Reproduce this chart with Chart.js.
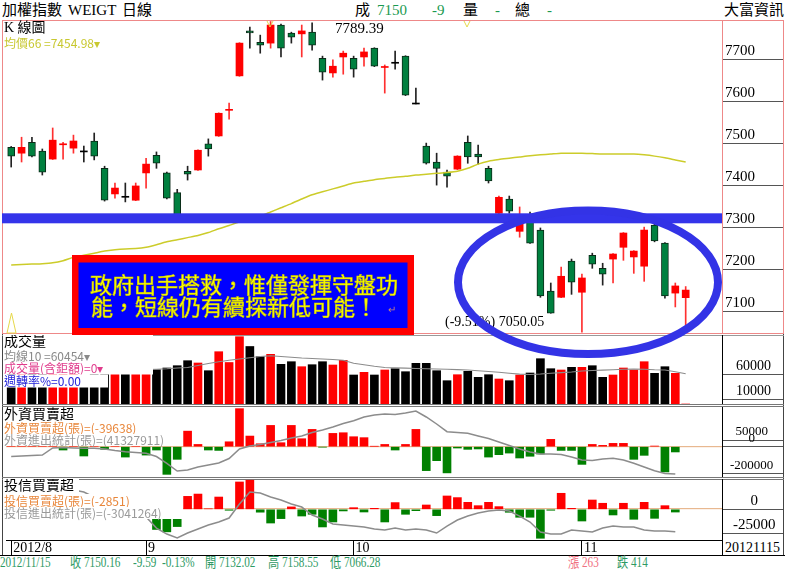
<!DOCTYPE html>
<html>
<head>
<meta charset="utf-8">
<script src="https://cdn.jsdelivr.net/npm/chart.js@4.4.0/dist/chart.umd.min.js"></script>
<style>
body { margin: 0; background: #fff; }
#wrap { position: relative; width: 785px; height: 571px; overflow: hidden; background: #fff;
        font-family: "Liberation Serif", "Noto Sans CJK TC", serif; }
canvas { position: absolute; left: 0; }
.t { position: absolute; white-space: nowrap; font-size: 15px; line-height: 20px; top: 0; }
.f { position: absolute; white-space: nowrap; font-size: 14px; line-height: 16px; top: 555px;
     transform: scaleX(0.8); transform-origin: left center; color: #2e9a64; }
.ln { position: absolute; }
</style>
</head>
<body>
<div id="wrap">
  <!-- header -->
  <div class="t" style="left:2px">加權指數</div>
  <div class="t" style="left:68px">WEIGT</div>
  <div class="t" style="left:122px">日線</div>
  <div class="t" style="left:355px">成</div>
  <div class="t" style="left:377px;color:#1a9a50">7150</div>
  <div class="t" style="left:432px;color:#1a9a50">-9</div>
  <div class="t" style="left:463px">量</div>
  <div class="t" style="left:495px;color:#1a9a50">-</div>
  <div class="t" style="left:515px">總</div>
  <div class="t" style="left:547px;color:#1a9a50">-</div>
  <div class="t" style="left:724px">大富資訊</div>

  <!-- frame lines -->
  <div class="ln" style="left:2px;top:20px;width:782px;height:1px;background:#e88"></div>
  <div class="ln" style="left:2px;top:20px;width:1px;height:314px;background:#e88"></div>
  <div class="ln" style="left:783px;top:20px;width:1px;height:314px;background:#e88"></div>
  <div class="ln" style="left:2px;top:333px;width:782px;height:1px;background:#e88"></div>
  <div class="ln" style="left:2px;top:334px;width:1px;height:222px;background:#444"></div>
  <div class="ln" style="left:783px;top:334px;width:1px;height:222px;background:#444"></div>
  <div class="ln" style="left:2px;top:335px;width:782px;height:1px;background:#999"></div>
  <div class="ln" style="left:2px;top:404px;width:782px;height:1px;background:#777"></div>
  <div class="ln" style="left:2px;top:406px;width:782px;height:1px;background:#777"></div>
  <div class="ln" style="left:2px;top:477px;width:782px;height:1px;background:#777"></div>
  <div class="ln" style="left:2px;top:479px;width:782px;height:1px;background:#777"></div>
  <div class="ln" style="left:0px;top:555px;width:785px;height:1px;background:#000"></div>
  <div class="ln" style="left:722px;top:540px;width:1px;height:15px;background:#000"></div>

  <canvas id="cVol" style="top:335px;z-index:1" width="785" height="69"></canvas>
  <canvas id="cFor" style="top:407px;z-index:1" width="785" height="70"></canvas>
  <canvas id="cTru" style="top:479px;z-index:1" width="785" height="76"></canvas>
  <canvas id="cMain" style="top:20px;z-index:3" width="785" height="350"></canvas>

  <div class="t" style="left:725px;top:538px;font-size:14px">20121115</div>

  <!-- footer -->
  <div class="f" style="left:0px">2012/11/15</div>
  <div class="f" style="left:70px">收 7150.16</div>
  <div class="f" style="left:133px">-9.59</div>
  <div class="f" style="left:162px">-0.13%</div>
  <div class="f" style="left:205px">開 7132.02</div>
  <div class="f" style="left:268px">高 7158.55</div>
  <div class="f" style="left:330px">低 7066.28</div>
  <div class="f" style="left:568px;color:#f07080">漲 263</div>
  <div class="f" style="left:617px">跌 414</div>
</div>

<script>
// trading days, 2012/08/15 - 2012/11/15
var dates = [
  '2012/08/15','2012/08/16','2012/08/17','2012/08/20','2012/08/21','2012/08/22','2012/08/23','2012/08/24',
  '2012/08/27','2012/08/28','2012/08/29','2012/08/30','2012/08/31',
  '2012/09/03','2012/09/04','2012/09/05','2012/09/06','2012/09/07','2012/09/10','2012/09/11','2012/09/12',
  '2012/09/13','2012/09/14','2012/09/17','2012/09/18','2012/09/19','2012/09/20','2012/09/21','2012/09/24',
  '2012/09/25','2012/09/26','2012/09/27','2012/09/28',
  '2012/10/01','2012/10/02','2012/10/03','2012/10/04','2012/10/05','2012/10/08','2012/10/09','2012/10/11',
  '2012/10/12','2012/10/15','2012/10/16','2012/10/17','2012/10/18','2012/10/19','2012/10/22','2012/10/23',
  '2012/10/24','2012/10/25','2012/10/26','2012/10/29','2012/10/30','2012/10/31',
  '2012/11/01','2012/11/02','2012/11/05','2012/11/06','2012/11/07','2012/11/08','2012/11/09','2012/11/12',
  '2012/11/13','2012/11/14','2012/11/15'
];
var emptySlots = ['', '', ''];

var openP = [7490,7476,7502,7481,7462,7496,7488,7479,7505,7440,
  7379,7371,7364,7429,7471,7429,7382,7433,7436,7498,
  7517,7578,7660,7767,7740,7738,7781,7762,7760,7764,
  7702,7667,7705,7702,7705,7726,7680,7690,7707,7593,
  7493,7455,7431,7438,7502,7474,7440,7333,7367,7290,
  7320,7293,7148,7133,7219,7145,7233,7202,7224,7252,
  7229,7207,7305,7262,7143,7132.02];
var highP = [7492,7514,7514,7486,7536,7502,7519,7493,7524,7445,
  7405,7405,7405,7464,7479,7431,7390,7445,7484,7510,
  7572,7595,7739,7776,7757,7789.39,7783,7764,7781,7786,
  7707,7698,7719,7707,7726,7727,7686,7719,7708,7631,
  7500,7476,7436,7470,7517,7495,7445,7374,7374,7348,
  7336,7298,7167,7205,7224,7188,7238,7214,7237,7287,
  7244,7300,7317,7263,7167,7158.55];
var lowP = [7443,7455,7467,7424,7461,7462,7476,7455,7460,7362,
  7369,7360,7363,7393,7440,7367,7325,7412,7435,7469,
  7516,7557,7659,7726,7714,7726,7705,7738,7705,7721,
  7650,7657,7664,7657,7683,7682,7619,7676,7613,7593,
  7450,7400,7395,7437,7452,7450,7405,7332,7333,7276,
  7261,7133,7095,7132,7140,7050.05,7202,7162,7167,7221,
  7190,7171,7265,7131,7110,7066.28];
var closeP = [7469,7490,7469,7431,7507,7498,7505,7479,7469,7364,
  7393,7371,7398,7450,7452,7369,7328,7426,7483,7486,
  7571,7580,7738,7762,7733,7781,7726,7752,7767,7733,
  7669,7683,7714,7676,7717,7683,7682,7690,7614,7593,
  7452,7440,7421,7469,7467,7467,7410,7371,7338,7310,
  7262,7136,7095,7183,7169,7179,7212,7188,7236,7286,
  7243,7293,7267,7136,7160,7150.16];
var ma66 = [7210,7211,7212,7213,7215,7220,7228,7233,7238,7243,
  7246,7248,7249,7252,7258,7265,7270,7275,7280,7287,
  7296,7304,7312,7319,7326,7336,7346,7356,7367,7377,
  7384,7391,7398,7405,7409,7413,7416,7419,7421,7424,
  7426,7428,7430,7433,7440,7450,7457,7461,7464,7467,
  7470,7472,7474,7476,7476,7476,7475,7474,7474,7474,
  7474,7472,7469,7465,7460,7454.98];

var volume = [75000,70000,68000,80000,78000,62000,66000,55000,72000,90000,
  76000,64000,70000,82000,68600,72000,76600,86600,82000,66600,
  104600,83000,134600,115000,94600,99400,79400,84600,74600,78600,
  84600,78000,87400,58000,63400,58000,68000,70600,64600,81400,
  81400,66600,46600,58600,65400,53400,58600,50000,46600,58000,
  62000,90600,70600,68000,73400,73400,76600,53400,58000,72000,
  68000,84600,61400,74600,61400,0];
var volMa10 = [72000,72500,73000,73000,72500,72000,71500,71000,70500,70000,
  69500,69000,68800,68600,69500,70500,72000,73000,77000,81000,
  84500,87500,90000,92500,95000,96500,95000,93500,92000,91000,
  90000,89000,87500,81500,78500,75500,73000,72300,71800,71000,
  70500,70000,69500,68800,68000,66500,65000,63500,61500,59800,
  59000,60000,61500,62800,64000,66000,67000,67800,68500,69500,
  70000,69500,68500,68000,64500,60454];

var foreignNet = [40000,25000,60000,15000,90000,-25000,30000,-70000,20000,-20000,
  35000,-78000,45000,-63000,-25000,-208000,-95000,117000,17000,-25000,
  -28000,37000,286000,80000,22000,160000,30000,160000,60000,130000,
  -3000,100000,105000,75000,68000,3000,17000,-25000,17000,130000,
  -180000,-105000,-197000,-10000,-20000,-17000,-78000,-60000,-48000,-85000,
  -72000,-55000,55000,-28000,-28000,-133000,17000,10000,25000,25000,
  -95000,-65000,5000,-190000,-39638,null];
var foreignCum = [41680000,41690000,41700000,41710000,41850000,41860000,41850000,41844000,41844000,41830000,
  41800000,41776000,41760000,41744000,41680000,41544000,41390000,41410000,41470000,41510000,
  41550000,41640000,41830000,41890000,41920000,41960000,42000000,42050000,42090000,42160000,
  42210000,42270000,42340000,42396000,42470000,42510000,42530000,42520000,42550000,42590000,
  42470000,42330000,42176000,42160000,42144000,42090000,42040000,41970000,41900000,41830000,
  41770000,41730000,41730000,41720000,41670000,41610000,41600000,41630000,41644000,41610000,
  41544000,41470000,41396000,41340000,41327911,null];

var trustNet = [-2000,-4000,-1500,-6000,-3000,-5000,-2500,-7000,-3500,-1000,
  -4500,-6500,-2000,-5500,-21000,-23500,-18000,13500,15900,500,
  12800,-1000,28500,30300,-3000,-14300,-9700,2500,-7000,-5200,
  -18400,-13200,-1700,1700,-2800,1000,-13200,7000,-5200,-1400,
  4500,-6600,13900,12200,7300,3800,7300,2800,-3100,-8300,
  -8300,-30200,-1000,16700,1000,-12200,9700,6300,-5900,6300,
  -10400,7300,-9400,3800,-2851,null];
var trustCum = [-2818000,-2818000,-2813000,-2813000,-2818000,-2823000,-2833000,-2843000,-2868000,-2898000,
  -2923000,-2943000,-2958000,-2968000,-3023000,-3053000,-3073000,-3048000,-3028000,-3008000,
  -2993000,-2973000,-2903000,-2843000,-2848000,-2868000,-2883000,-2903000,-2918000,-2958000,
  -2978000,-3003000,-3008000,-3013000,-3018000,-3028000,-3033000,-3023000,-3033000,-3028000,
  -3033000,-3048000,-3013000,-2983000,-2963000,-2948000,-2938000,-2933000,-2938000,-2963000,
  -2993000,-3043000,-3053000,-3053000,-3033000,-3038000,-3043000,-3023000,-3013000,-3018000,
  -3018000,-3033000,-3038000,-3038000,-3041264,null];

var priceTicks = [7100, 7200, 7300, 7400, 7500, 7600, 7700];
var volTicks = [10000, 60000];
var foreignTicks = [-200000, 0, 50000];
var trustTicks = [-25000, 0];
var monthTickIdx = [0, 13, 33, 55];
var monthLabels = ['2012/8', '9', '10', '11'];
var supportLevel = 7321;

var allLabels = dates.concat(emptySlots);

var RED = '#ff0000';
var GREEN = '#00803f';
var BAR_GREEN = '#008000';
var SERIF = "'Liberation Serif', 'Noto Sans CJK TC', serif";
var NOTE = "12px 'Noto Sans CJK TC', sans-serif";
var TITLE = "14px 'Liberation Serif', 'Noto Sans CJK TC', serif";

function isUp(i) { return closeP[i] > openP[i]; }
function isDown(i) { return closeP[i] < openP[i]; }

var wicks = dates.map(function (d, i) { return [lowP[i], highP[i]]; });
var bodies = dates.map(function (d, i) { return [openP[i], closeP[i]]; });
var bodyFill = dates.map(function (d, i) { return isUp(i) ? RED : (isDown(i) ? GREEN : '#000'); });
var bodyLine = dates.map(function (d, i) { return isDown(i) ? '#0b2a18' : bodyFill[i]; });
var bodyLineW = dates.map(function (d, i) { return isDown(i) ? 1 : 0; });
var wickFill = dates.map(function (d, i) { return isUp(i) ? '#ff3030' : '#222'; });
var volFill = dates.map(function (d, i) { return isUp(i) ? RED : '#000'; });
var signFill = function (arr) {
    return arr.map(function (v) { return v >= 0 ? RED : BAR_GREEN; });
};

function hiddenX() {
    return { type: 'category', labels: allLabels, display: false, offset: true, grid: { offset: false } };
}

function rightAxis(min, max, ticks, size, pad, cross, off) {
    return {
        position: 'right', min: min, max: max,
        afterBuildTicks: function (s) { s.ticks = ticks.map(function (v) { return { value: v }; }); },
        afterFit: function (s) { s.width = 61; },
        grid: { drawOnChartArea: false, drawTicks: true, tickLength: 61, color: '#555' },
        border: { display: true, color: '#000' },
        ticks: {
            autoSkip: false, crossAlign: cross, padding: pad, labelOffset: off,
            color: '#000', font: { family: SERIF, size: size },
            callback: function (v) { return String(v); }
        }
    };
}

// white boxed notes in the top-left of every panel
function notesPlugin(notes) {
    return {
        id: 'notes',
        afterDatasetsDraw: function (chart) {
            var ctx = chart.ctx;
            notes.forEach(function (n) {
                ctx.save();
                ctx.font = n.font || NOTE;
                var w = n.w || (ctx.measureText(n.t).width + 6);
                ctx.fillStyle = '#fff';
                ctx.fillRect(3, n.y0, w, n.y1 - n.y0);
                ctx.fillStyle = n.c;
                ctx.textBaseline = 'middle';
                ctx.fillText(n.t, 4, (n.y0 + n.y1) / 2 + 0.5);
                ctx.restore();
            });
        }
    };
}

var baseOpts = {
    responsive: false, animation: false,
    plugins: { legend: { display: false }, tooltip: { enabled: false } }
};

function opts(extra) {
    var o = JSON.parse(JSON.stringify(baseOpts));
    o.responsive = false; o.animation = false;
    for (var k in extra) o[k] = extra[k];
    return o;
}

// ---------- K line ----------
var mainAxis = rightAxis(7048, 7793, priceTicks, 15, -58, 'near', -8);
mainAxis.border.color = '#e88';

var mainDecor = {
    id: 'mainDecor',
    afterDatasetsDraw: function (chart) {
        var ctx = chart.ctx, a = chart.chartArea, y = chart.scales.y;
        ctx.save();
        // support band
        var yb = y.getPixelForValue(supportLevel);
        ctx.fillStyle = '#3434ea';
        ctx.fillRect(a.left - 4, yb - 5, a.right - a.left + 4, 10);

        // comment box
        ctx.fillStyle = '#ff0000';
        ctx.fillRect(72, 235, 342, 80);
        ctx.fillStyle = '#0000ff';
        ctx.fillRect(78.5, 242.5, 329, 65.5);
        ctx.fillStyle = '#ffff00';
        ctx.strokeStyle = '#c8c800';
        ctx.lineWidth = 0.6;
        ctx.font = "22px 'Noto Sans CJK TC', sans-serif";
        ctx.textBaseline = 'middle';
        ctx.fillText('政府出手搭救，惟僅發揮守盤功', 90, 265);
        ctx.strokeText('政府出手搭救，惟僅發揮守盤功', 90, 265);
        ctx.fillText('能，短線仍有續探新低可能！', 91, 287);
        ctx.strokeText('能，短線仍有續探新低可能！', 91, 287);
        ctx.fillStyle = '#c08080';
        ctx.font = "10px 'Liberation Sans'";
        ctx.fillText('↵', 388, 290);

        // high / low labels
        ctx.fillStyle = '#000';
        ctx.font = '15px ' + SERIF;
        ctx.fillText('7789.39', 335, 9);
        ctx.font = '14px ' + SERIF;
        ctx.fillText('(-9.51%) 7050.05', 445, 302);

        // small markers
        ctx.strokeStyle = '#e6d84a';
        ctx.lineWidth = 1;
        [270, 467].forEach(function (mx) {
            ctx.beginPath();
            ctx.moveTo(mx - 3, 1); ctx.lineTo(mx, 7); ctx.lineTo(mx + 3, 1);
            ctx.stroke();
        });
        ctx.beginPath();
        ctx.moveTo(7, 313); ctx.lineTo(11.5, 293); ctx.lineTo(16, 313); ctx.closePath();
        ctx.stroke();
        ctx.restore();
    },
    afterDraw: function (chart) {
        var ctx = chart.ctx;
        ctx.save();
        ctx.strokeStyle = '#3333e6';
        ctx.lineWidth = 8;
        ctx.beginPath();
        ctx.ellipse(588, 262.3, 130, 71.7, 0, 0, Math.PI * 2);
        ctx.stroke();
        ctx.restore();
    }
};

new Chart(document.getElementById('cMain'), {
    type: 'bar',
    data: {
        labels: allLabels,
        datasets: [{
            type: 'line', label: 'MA66', data: ma66, order: 0,
            borderColor: '#cccc2a', borderWidth: 1.5, pointRadius: 0, tension: 0.2
        }, {
            label: 'wick', data: wicks, order: 2, grouped: false,
            backgroundColor: wickFill, barThickness: 1
        }, {
            label: 'body', data: bodies, order: 1, grouped: false,
            backgroundColor: bodyFill, borderColor: bodyLine, borderWidth: bodyLineW,
            borderSkipped: false, barThickness: 7, minBarLength: 1
        }]
    },
    options: opts({
        layout: { padding: { left: 6, right: 2, top: 0, bottom: 37 } },
        scales: { x: hiddenX(), y: mainAxis }
    }),
    plugins: [mainDecor, notesPlugin([
        { t: 'K 線圖', c: '#000', font: TITLE, y0: 1, y1: 15 },
        { t: '均價66 =7454.98▾', c: '#c8c830', y0: 16, y1: 29 }
    ])]
});

// ---------- volume ----------
new Chart(document.getElementById('cVol'), {
    type: 'bar',
    data: {
        labels: allLabels,
        datasets: [{
            type: 'line', label: '均線10', data: volMa10, order: 0,
            borderColor: '#8c8c8c', borderWidth: 1.2, pointRadius: 0
        }, {
            label: '成交量', data: volume, order: 1, grouped: false,
            backgroundColor: volFill, barThickness: 8
        }]
    },
    options: opts({
        layout: { padding: { left: 6, right: 2, top: 0, bottom: 0 } },
        scales: { x: hiddenX(), y: rightAxis(0, 138000, volTicks, 14, -47, 'center', -8) }
    }),
    plugins: [notesPlugin([
        { t: '成交量', c: '#000', font: TITLE, y0: 0, y1: 14, w: 150 },
        { t: '均線10 =60454▾', c: '#8a8a8a', y0: 14, y1: 27, w: 150 },
        { t: '成交量(含鉅額)=0▾', c: '#e03c8c', y0: 27, y1: 39.5, w: 150 },
        { t: '週轉率%=0.00', c: '#1c1cd8', y0: 39.5, y1: 52.5, w: 105 }
    ])]
});

// ---------- foreign net buy ----------
var forAxis = rightAxis(-227900, 298500, foreignTicks, 13, -53, 'center', -8);
new Chart(document.getElementById('cFor'), {
    type: 'bar',
    data: {
        labels: allLabels,
        datasets: [{
            type: 'line', label: '外資進出統計', data: foreignCum, yAxisID: 'yc', order: 0,
            borderColor: '#8c8c8c', borderWidth: 1.5, pointRadius: 0
        }, {
            label: '外資買賣超', data: foreignNet, order: 1, grouped: false,
            backgroundColor: signFill(foreignNet), barThickness: 8
        }]
    },
    options: opts({
        layout: { padding: { left: 6, right: 2, top: 0, bottom: 0 } },
        scales: {
            x: hiddenX(),
            y: forAxis,
            yc: { display: false, min: 41270000, max: 42670000 }
        }
    }),
    plugins: [{
        id: 'zeroLine',
        beforeDatasetsDraw: function (chart) {
            var ctx = chart.ctx, a = chart.chartArea, y0 = chart.scales.y.getPixelForValue(0);
            ctx.save();
            ctx.fillStyle = '#e8b890';
            ctx.fillRect(a.left, Math.round(y0) - 1, a.right - a.left, 1.2);
            ctx.restore();
        }
    }, notesPlugin([
        { t: '外資買賣超', c: '#000', font: TITLE, y0: 0, y1: 15, w: 166 },
        { t: '外資買賣超(張)=(-39638)', c: '#e8863a', y0: 15, y1: 27, w: 166 },
        { t: '外資進出統計(張)=(41327911)', c: '#9a9a9a', y0: 27, y1: 39, w: 166 }
    ])]
});

// ---------- trust net buy + date axis ----------
var truAxis = rightAxis(-32000, 31600, trustTicks, 15, -50, 'center', -8);
new Chart(document.getElementById('cTru'), {
    type: 'bar',
    data: {
        labels: allLabels,
        datasets: [{
            type: 'line', label: '投信進出統計', data: trustCum, yAxisID: 'yc', order: 0,
            borderColor: '#8c8c8c', borderWidth: 1.5, pointRadius: 0
        }, {
            label: '投信買賣超', data: trustNet, order: 1, grouped: false,
            backgroundColor: signFill(trustNet), barThickness: 8
        }]
    },
    options: opts({
        layout: { padding: { left: 6, right: 2, top: 0, bottom: 0 } },
        scales: {
            x: {
                type: 'category', labels: allLabels, offset: true, position: 'bottom',
                afterBuildTicks: function (s) { s.ticks = monthTickIdx.map(function (v) { return { value: v }; }); },
                afterFit: function (s) { s.height = 15; },
                grid: { offset: false, drawOnChartArea: false, drawTicks: true, tickLength: 15, color: '#000' },
                border: { display: true, color: '#000' },
                ticks: {
                    autoSkip: false, maxRotation: 0, align: 'start', padding: -15, labelOffset: 2,
                    color: '#000', font: { family: SERIF, size: 14 },
                    callback: function (v) { return monthLabels[monthTickIdx.indexOf(v)]; }
                }
            },
            y: truAxis,
            yc: { display: false, min: -3082764, max: -2777764 }
        }
    }),
    plugins: [{
        id: 'zeroLine',
        beforeDatasetsDraw: function (chart) {
            var ctx = chart.ctx, a = chart.chartArea, y0 = chart.scales.y.getPixelForValue(0);
            ctx.save();
            ctx.fillStyle = '#e8b890';
            ctx.fillRect(a.left, Math.round(y0) - 1, a.right - a.left, 1.2);
            ctx.restore();
        }
    }, notesPlugin([
        { t: '投信買賣超', c: '#000', font: TITLE, y0: 0, y1: 14, w: 76 },
        { t: '投信買賣超(張)=(-2851)', c: '#e8863a', y0: 15, y1: 28, w: 150 },
        { t: '投信進出統計(張)=(-3041264)', c: '#9a9a9a', y0: 28, y1: 40, w: 180 }
    ])]
});
</script>
</body>
</html>
